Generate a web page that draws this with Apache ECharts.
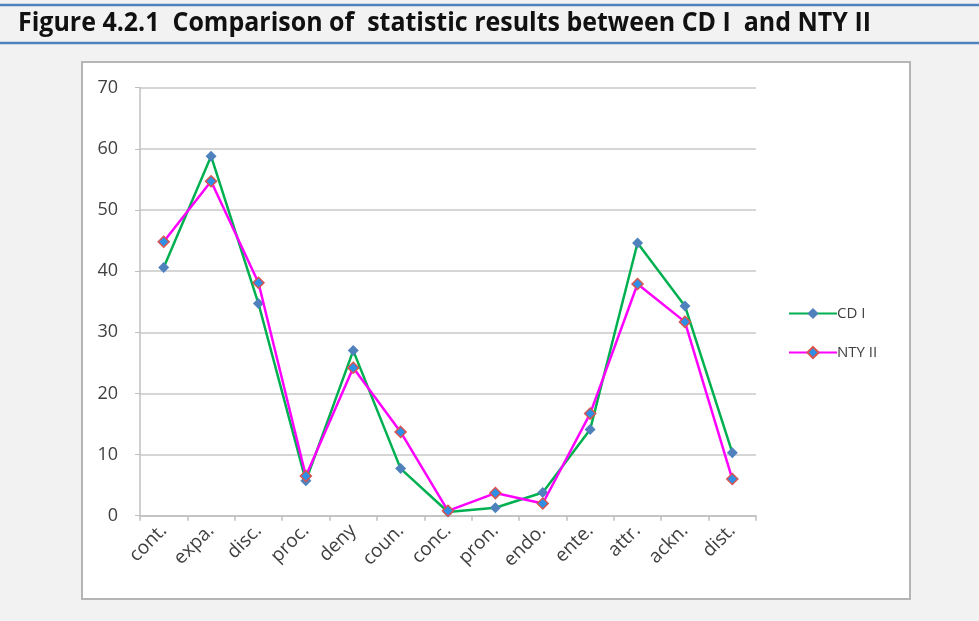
<!DOCTYPE html>
<html><head><meta charset="utf-8">
<script src="https://cdn.jsdelivr.net/npm/echarts@6/dist/echarts.min.js"></script>
<style>html,body{margin:0;padding:0;background:#f2f2f2;}#c{width:979px;height:621px;}</style>
</head><body><div id="c"></div>
<script>
const categories = ['cont.','expa.','disc.','proc.','deny','coun.','conc.','pron.','endo.','ente.','attr.','ackn.','dist.'];
const cdI = [40.6, 58.8, 34.7, 5.7, 27.0, 7.7, 0.6, 1.3, 3.8, 14.1, 44.6, 34.3, 10.3];
const ntyII = [44.8, 54.7, 38.1, 6.5, 24.2, 13.7, 0.8, 3.7, 2.0, 16.7, 37.9, 31.7, 6.0];
const yTicks = [0, 10, 20, 30, 40, 50, 60, 70];
const titleText = 'Figure 4.2.1  Comparison of  statistic results between CD I  and NTY II';

const chart = echarts.init(document.getElementById('c'), null, {renderer: 'canvas'});
chart.setOption({
  backgroundColor: '#f2f2f2',
  animation: false,
  graphic: [
    {type: 'rect', z: -10, shape: {x: 82, y: 62, width: 828, height: 537}, style: {fill: '#ffffff', stroke: '#b5b5b5', lineWidth: 2}},
    {type: 'line', shape: {x1: 0, y1: 5, x2: 979, y2: 5}, style: {stroke: '#4f81bd', lineWidth: 2.5}},
    {type: 'line', shape: {x1: 0, y1: 43, x2: 979, y2: 43}, style: {stroke: '#4f81bd', lineWidth: 2.5}},
    {type: 'text', x: 18, y: 23, scaleX: 0.925, style: {text: titleText, font: 'bold 27px "Open Sans", sans-serif', fill: '#111', verticalAlign: 'middle'}}
  ],
  legend: {
    orient: 'vertical', left: 783, top: 301, itemGap: 24, itemWidth: 48, itemHeight: 14,
    textStyle: {fontFamily: 'Open Sans, sans-serif', fontSize: 15, color: '#404040', padding: [0,0,0,-5]},
    data: ['CD I', 'NTY II']
  },
  grid: {left: 140, right: 223, top: 87.7, bottom: 105.3},
  xAxis: {
    type: 'category', data: categories, boundaryGap: true,
    axisLine: {lineStyle: {color: '#bfbfbf', width: 1.5}},
    axisTick: {show: true, length: 5, lineStyle: {color: '#bfbfbf', width: 1.5}},
    axisLabel: {rotate: 45, fontFamily: 'Open Sans, sans-serif', fontSize: 19, color: '#404040', margin: 12}
  },
  yAxis: {
    type: 'value', min: 0, max: 70, interval: 10,
    axisLine: {show: true, lineStyle: {color: '#bfbfbf', width: 1.5}},
    axisTick: {show: true, length: 5, lineStyle: {color: '#bfbfbf'}},
    axisLabel: {fontFamily: 'Open Sans, sans-serif', fontSize: 18, color: '#404040', margin: 22,
      formatter: v => yTicks.includes(v) ? String(v) : ''},
    splitLine: {lineStyle: {color: '#c8c8c8', width: 1.5}}
  },
  series: [
    {name: 'CD I', type: 'line', data: cdI, symbol: 'diamond', symbolSize: 11, color: '#00b050',
      lineStyle: {color: '#00b050', width: 2.5}, itemStyle: {color: '#4f81bd', borderColor: '#4f81bd', borderWidth: 0}, z: 2},
    {name: 'NTY II', type: 'line', data: ntyII, symbol: 'diamond', symbolSize: 11, color: '#ff00ff',
      lineStyle: {color: '#ff00ff', width: 2.5}, itemStyle: {color: '#2e8fe6', borderColor: '#d9534f', borderWidth: 1.5}, z: 3}
  ]
});
</script></body></html>
